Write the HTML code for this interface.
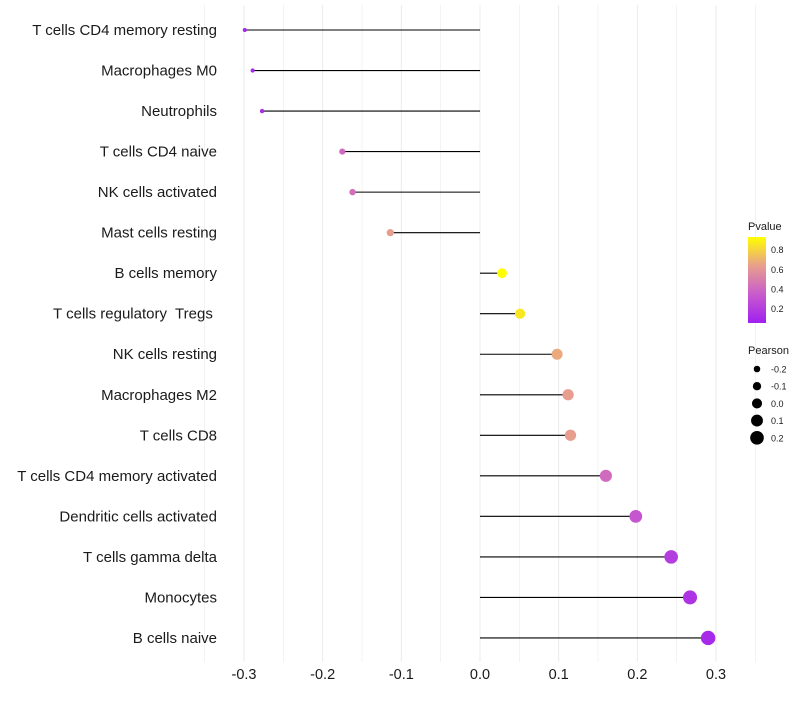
<!DOCTYPE html>
<html><head><meta charset="utf-8"><style>
body{margin:0;background:#fff;font-family:"Liberation Sans",sans-serif}
svg text{font-family:"Liberation Sans",sans-serif;white-space:pre}
</style></head><body>
<svg id="chart" width="800" height="700"></svg>
<script>
const categories=["T cells CD4 memory resting","Macrophages M0","Neutrophils","T cells CD4 naive","NK cells activated","Mast cells resting","B cells memory","T cells regulatory  Tregs ","NK cells resting","Macrophages M2","T cells CD8","T cells CD4 memory activated","Dendritic cells activated","T cells gamma delta","Monocytes","B cells naive"];
const pearson=[-0.299,-0.289,-0.277,-0.175,-0.162,-0.114,0.028,0.051,0.098,0.112,0.115,0.160,0.198,0.243,0.267,0.290];
const pvalue=[0.08,0.1,0.12,0.42,0.44,0.64,0.93,0.86,0.68,0.64,0.64,0.42,0.33,0.2,0.15,0.1];
const xTicks=[-0.3,-0.2,-0.1,0.0,0.1,0.2,0.3];
const xTickLabels=["-0.3","-0.2","-0.1","0.0","0.1","0.2","0.3"];
const legendP=[0.8,0.6,0.4,0.2];
const legendPearson=[-0.2,-0.1,0.0,0.1,0.2];

const NS="http://www.w3.org/2000/svg";
const svg=document.getElementById('chart');
const X=v=>480+v*786.7;
const Y=i=>30+i*40.53;
const R=v=>2+(v+0.3)/0.6*5.3;
function pColor(p){
  const stops=[[0.05,[160,32,240]],[0.35,[200,90,205]],[0.65,[232,160,140]],[0.93,[255,255,0]]];
  if(p<=stops[0][0])return `rgb(${stops[0][1]})`;
  for(let k=1;k<stops.length;k++){if(p<=stops[k][0]){const a=stops[k-1],b=stops[k];const t=(p-a[0])/(b[0]-a[0]);return 'rgb('+a[1].map((c,j)=>Math.round(c+(b[1][j]-c)*t)).join(',')+')';}}
  return 'rgb(255,255,0)';
}
function el(t,a,txt){const e=document.createElementNS(NS,t);for(const k in a)e.setAttribute(k,a[k]);if(txt!==undefined)e.textContent=txt;svg.appendChild(e);return e;}
for(let v=-0.35;v<=0.351;v+=0.05){
  const g=el('line',{x1:X(v),x2:X(v),y1:5,y2:662,stroke:'#ebebeb','stroke-width':Math.abs(Math.round(v*20))%2===0?1:0.6});
  
  
}
xTicks.forEach((v,i)=>{
  const t=el('text',{x:X(v),y:679,'text-anchor':'middle','font-size':14.5,fill:'#1a1a1a'},xTickLabels[i]);
  
  
});
categories.forEach((c,i)=>{
  const t=el('text',{x:217,y:Y(i)+5,'text-anchor':'end','font-size':15,fill:'#1a1a1a'},c);
  
  
  const l=el('line',{x1:X(0),x2:X(pearson[i]),y1:Y(i),y2:Y(i),stroke:'#000','stroke-width':1.1});
  
  
  const p=el('circle',{cx:X(pearson[i]),cy:Y(i),r:R(pearson[i]),fill:pColor(pvalue[i])});
  
  
});
const lt=el('text',{x:748,y:230,'font-size':11,fill:'#1a1a1a'},'Pvalue');


const defs=el('defs',{});
const lg=document.createElementNS(NS,'linearGradient');lg.setAttribute('id','pg');lg.setAttribute('x1','0');lg.setAttribute('y1','1');lg.setAttribute('x2','0');lg.setAttribute('y2','0');
[[0,0.05],[0.33,0.35],[0.67,0.65],[1,0.93]].forEach(s=>{const st=document.createElementNS(NS,'stop');st.setAttribute('offset',s[0]);st.setAttribute('stop-color',pColor(s[1]));lg.appendChild(st);});
defs.appendChild(lg);
const bar=el('rect',{x:748,y:237,width:18,height:86,fill:'url(#pg)'});


const pY=p=>323-(p-0.05)/(0.93-0.05)*86;
legendP.forEach(p=>{
  const t=el('text',{x:771,y:pY(p)+3.5,'font-size':9,fill:'#1a1a1a'},p.toFixed(1));
  
  
});
const st=el('text',{x:748,y:354,'font-size':11,fill:'#1a1a1a'},'Pearson');


legendPearson.forEach((v,i)=>{
  const y=369+i*17.2;
  const c=el('circle',{cx:757,cy:y,r:R(v)+0.4,fill:'#000'});
  
  
  const t=el('text',{x:771,y:y+3.5,'font-size':9,fill:'#1a1a1a'},v.toFixed(1));
  
  
});
</script>
</body></html>
